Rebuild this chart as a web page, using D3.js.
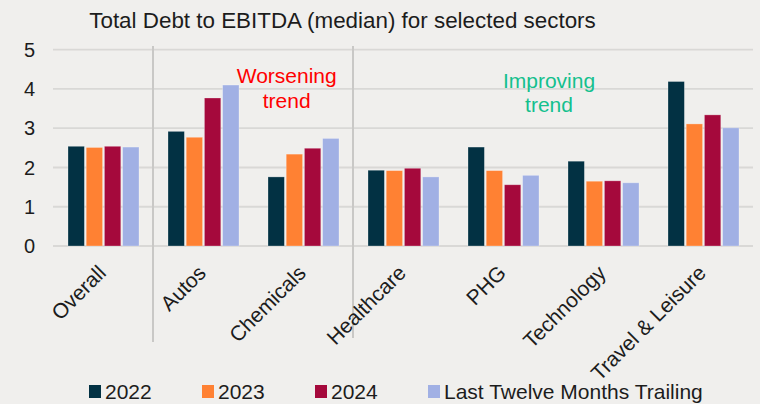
<!DOCTYPE html>
<html>
<head>
<meta charset="utf-8">
<script src="https://cdn.jsdelivr.net/npm/d3@7"></script>
<style>
  html, body { margin: 0; padding: 0; background: #f0efed; }
  svg { display: block; font-family: "Liberation Sans", Arial, sans-serif; }
</style>
</head>
<body>
<div id="chart"></div>
<script>
// chart values
var categories = ["Overall", "Autos", "Chemicals", "Healthcare", "PHG", "Technology", "Travel & Leisure"];
var seriesNames = ["2022", "2023", "2024", "Last Twelve Months Trailing"];
var v2022 = [2.54, 2.92, 1.76, 1.93, 2.52, 2.16, 4.19];
var v2023 = [2.51, 2.77, 2.34, 1.92, 1.92, 1.65, 3.11];
var v2024 = [2.54, 3.77, 2.49, 1.98, 1.56, 1.66, 3.34];
var vLTM  = [2.52, 4.10, 2.74, 1.76, 1.80, 1.61, 3.01];
var yTicks = [0, 1, 2, 3, 4, 5];
var colors = ["#023143", "#ff8133", "#a5093c", "#a1b0e4"];

var layout = {
    "width": 760,
    "height": 404,
    "margin": {'top': 50, 'right': 7, 'bottom': 158, 'left': 53}
};

var values = [v2022, v2023, v2024, vLTM];

// reshape into one row per category
var data = categories.map(function(c, i) {
    return {
        category: c,
        bars: seriesNames.map(function(s, j) { return {key: s, value: values[j][i], idx: j}; })
    };
});

var svg = d3.select("#chart").append("svg")
    .attr("width", layout.width)
    .attr("height", layout.height);

var x0 = d3.scaleBand()
    .domain(categories)
    .range([layout.margin.left, layout.width - layout.margin.right])
    .padding(0);

// bars occupy the middle part of each category slot
var x1 = d3.scaleBand()
    .domain(seriesNames)
    .range([x0.bandwidth() * 0.15, x0.bandwidth() * 0.86])
    .paddingInner(0.1);

var y = d3.scaleLinear()
    .domain([0, 5])
    .range([246, 49.7]);

// gridlines
svg.append("g").selectAll("line")
    .data(yTicks)
    .enter().append("line")
    .attr("x1", x0.range()[0])
    .attr("x2", x0.range()[1])
    .attr("y1", d => y(d))
    .attr("y2", d => y(d))
    .attr("stroke", "#d9d8d6")
    .attr("stroke-width", 1.8);

// y tick labels
svg.append("g").selectAll("text")
    .data(yTicks)
    .enter().append("text")
    .attr("x", 35)
    .attr("y", d => y(d))
    .attr("dy", "0.36em")
    .attr("text-anchor", "end")
    .attr("font-size", 20)
    .attr("fill", "#1c1c1c")
    .text(d => d);

// separators between sector groups
var separators = ["Autos", "Healthcare"];
svg.append("g").selectAll("line")
    .data(separators)
    .enter().append("line")
    .attr("x1", d => x0(d))
    .attr("x2", d => x0(d))
    .attr("y1", 46)
    .attr("y2", (d, i) => i === 0 ? 342 : 338)
    .attr("stroke", "#c9c8c6")
    .attr("stroke-width", 2);

// bars
var groups = svg.append("g").selectAll("g")
    .data(data)
    .enter().append("g")
    .attr("transform", d => "translate(" + x0(d.category) + ",0)");

groups.selectAll("rect")
    .data(d => d.bars)
    .enter().append("rect")
    .attr("x", d => x1(d.key))
    .attr("width", x1.bandwidth())
    .attr("y", d => y(d.value))
    .attr("height", d => y(0) - y(d.value))
    .attr("fill", d => colors[d.idx])
    .attr("stroke", "rgba(255,255,255,0.35)")
    .attr("stroke-width", 0.8);

// category labels, rotated
svg.append("g").selectAll("text")
    .data(categories)
    .enter().append("text")
    .attr("transform", d => "translate(" + (x0(d) + x0.bandwidth() / 2 - 1) + ",269) rotate(-45)")
    .attr("dy", "0.35em")
    .attr("text-anchor", "end")
    .attr("font-size", 21)
    .attr("fill", "#1c1c1c")
    .text(d => d);

// title
svg.append("text")
    .attr("x", 342.5)
    .attr("y", 28)
    .attr("text-anchor", "middle")
    .attr("font-size", 22.4)
    .attr("fill", "#1c1c1c")
    .text("Total Debt to EBITDA (median) for selected sectors");

// annotations
var notes = [
    {lines: ["Worsening", "trend"], x: 286.7, y: 83, color: "#ff0000"},
    {lines: ["Improving", "trend"], x: 549, y: 87.5, color: "#14c08e"}
];
notes.forEach(function(n) {
    var t = svg.append("text")
        .attr("text-anchor", "middle")
        .attr("font-size", 21)
        .attr("fill", n.color);
    n.lines.forEach(function(l, i) {
        t.append("tspan")
            .attr("x", n.x)
            .attr("y", n.y + i * 24.5)
            .text(l);
    });
});

// legend
var legend = svg.append("g").selectAll("g")
    .data(seriesNames)
    .enter().append("g")
    .attr("transform", (d, i) => "translate(" + (89 + i * 113) + ",0)");

legend.append("rect")
    .attr("x", 0)
    .attr("y", 385)
    .attr("width", 12)
    .attr("height", 13)
    .attr("fill", (d, i) => colors[i]);

legend.append("text")
    .attr("x", 16)
    .attr("y", 398.5)
    .attr("font-size", 21)
    .attr("fill", "#1c1c1c")
    .text(d => d);
</script>
</body>
</html>
